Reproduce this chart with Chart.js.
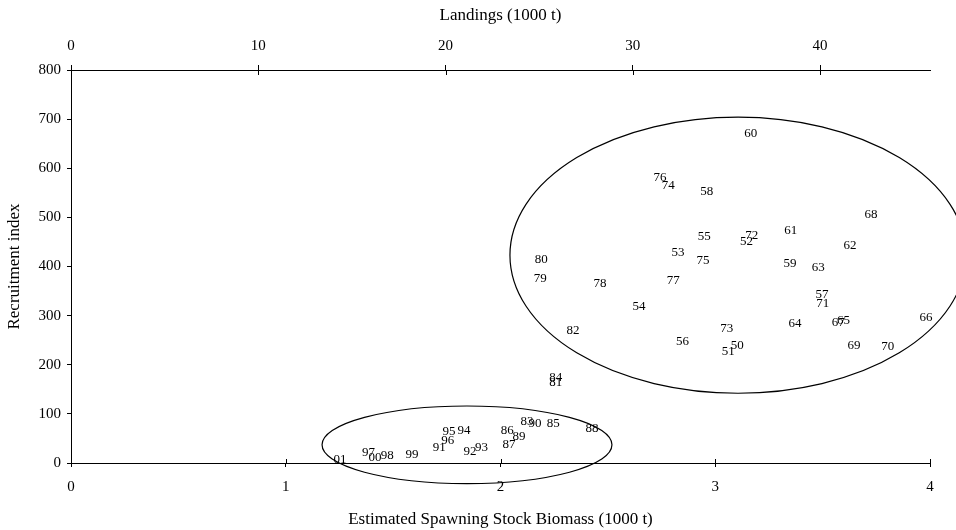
<!DOCTYPE html>
<html>
<head>
<meta charset="utf-8">
<script src="https://cdn.jsdelivr.net/npm/chart.js@4/dist/chart.umd.min.js"></script>
<style>
  body { margin: 0; background: #fff; }
  canvas { display: block; }
</style>
</head>
<body>
<canvas id="srChart" width="956" height="530"></canvas>
<script>
// Year labels and stock-recruitment values
const years = ['50', '51', '52', '53', '54', '55', '56', '57', '58', '59',
    '60', '61', '62', '63', '64', '65', '66', '67', '68', '69',
    '70', '71', '72', '73', '74', '75', '76', '77', '78', '79',
    '80', '81', '82', '83', '84', '85', '86', '87', '88', '89',
    '90', '91', '92', '93', '94', '95', '96', '97', '98', '99',
    '00', '01'];
const ssb = [3.103, 3.061, 3.146, 2.827, 2.645, 2.949, 2.847, 3.497, 2.960, 3.348,
    3.165, 3.351, 3.627, 3.480, 3.371, 3.597, 3.981, 3.573, 3.725, 3.646,
    3.803, 3.500, 3.170, 3.053, 2.781, 2.943, 2.743, 2.805, 2.463, 2.185,
    2.190, 2.257, 2.338, 2.123, 2.257, 2.246, 2.032, 2.040, 2.426, 2.086,
    2.161, 1.715, 1.858, 1.912, 1.830, 1.760, 1.754, 1.385, 1.473, 1.588,
    1.416, 1.253];
const recruitment = [239, 227, 450, 428, 318, 460, 248, 342, 552, 405,
    671, 474, 442, 397, 283, 290, 297, 286, 506, 240,
    238, 325, 463, 274, 564, 412, 580, 371, 366, 375,
    415, 164, 269, 84, 174, 81, 66, 37, 71, 54,
    81, 31, 24, 32, 67, 64, 45, 22, 16, 18,
    11, 6];

// Ellipses grouping the two periods: [centre x, centre y, half width, half height] in data units
const highPeriod = [3.106, 423, 1.062, 281];
const lowPeriod = [1.844, 37, 0.675, 79];

const serif = 'Liberation Serif, Times New Roman, serif';

// draws the year text at each point, the ellipses and the inner halves of the ticks
const yearLabels = {
    id: 'yearLabels',
    afterDraw(chart) {
        const ctx = chart.ctx;
        const xs = chart.scales.x;
        const ys = chart.scales.y;
        const meta = chart.getDatasetMeta(0);
        ctx.save();
        ctx.fillStyle = '#000';
        ctx.font = '13px ' + serif;
        ctx.textAlign = 'center';
        ctx.textBaseline = 'middle';
        meta.data.forEach(function(pt, i) {
            ctx.fillText(years[i], pt.x, pt.y);
        });

        ctx.strokeStyle = '#000';
        ctx.lineWidth = 1.2;
        [highPeriod, lowPeriod].forEach(function(e) {
            const cx = xs.getPixelForValue(e[0]);
            const cy = ys.getPixelForValue(e[1]);
            const rx = xs.getPixelForValue(e[0] + e[2]) - cx;
            const ry = cy - ys.getPixelForValue(e[1] + e[3]);
            ctx.beginPath();
            ctx.ellipse(cx, cy, rx, ry, 0, 0, Math.PI * 2);
            ctx.stroke();
        });

        // tick marks cross the top and bottom axis lines
        ctx.lineWidth = 1;
        ctx.beginPath();
        xs.ticks.forEach(function(t) {
            const px = Math.round(xs.getPixelForValue(t.value)) + 0.5;
            ctx.moveTo(px, xs.top);
            ctx.lineTo(px, xs.top - 4);
        });
        const top = chart.scales.x2;
        top.ticks.forEach(function(t) {
            const px = Math.round(top.getPixelForValue(t.value)) + 0.5;
            ctx.moveTo(px, top.bottom);
            ctx.lineTo(px, top.bottom + 5);
        });
        ctx.stroke();
        ctx.restore();
    }
};

const ctx = document.getElementById('srChart').getContext('2d');
const srChart = new Chart(ctx, {
    type: 'scatter',
    data: {
        datasets: [{
            data: ssb.map(function(v, i) { return { x: v, y: recruitment[i] }; }),
            pointRadius: 0,
            pointHoverRadius: 0,
            xAxisID: 'x',
            yAxisID: 'y'
        }]
    },
    options: {
        responsive: false,
        animation: false,
        layout: { padding: { left: 0, right: 26, top: 0, bottom: 0 } },
        plugins: {
            legend: { display: false },
            tooltip: { enabled: false }
        },
        scales: {
            x: {
                type: 'linear',
                position: 'bottom',
                min: 0,
                max: 4,
                ticks: { stepSize: 1, color: '#000', padding: 11, font: { family: serif, size: 15 } },
                grid: { drawOnChartArea: false, tickLength: 4, color: '#000' },
                border: { color: '#000' },
                title: {
                    display: true,
                    text: 'Estimated Spawning Stock Biomass (1000 t)',
                    color: '#000',
                    font: { family: serif, size: 17 },
                    padding: { top: 0, bottom: 0 }
                },
                afterFit: function(s) { s.height = 67; }
            },
            x2: {
                type: 'linear',
                position: 'top',
                min: 0,
                max: 45.87,
                ticks: { stepSize: 10, includeBounds: false, color: '#000', padding: 10, font: { family: serif, size: 15 } },
                grid: { drawOnChartArea: false, tickLength: 5, color: '#000' },
                border: { color: '#000' },
                title: {
                    display: true,
                    text: 'Landings (1000 t)',
                    color: '#000',
                    font: { family: serif, size: 17 },
                    padding: { top: 5, bottom: 0 }
                },
                afterFit: function(s) { s.height = 70; }
            },
            y: {
                type: 'linear',
                position: 'left',
                min: 0,
                max: 800,
                ticks: { stepSize: 100, color: '#000', padding: 6, font: { family: serif, size: 15 } },
                grid: { drawOnChartArea: false, tickLength: 4, color: '#000' },
                border: { color: '#000' },
                title: {
                    display: true,
                    text: 'Recruitment index',
                    color: '#000',
                    font: { family: serif, size: 17 },
                    padding: { top: 4, bottom: 0 }
                },
                afterFit: function(s) { s.width = 71; }
            }
        }
    },
    plugins: [yearLabels]
});
</script>
</body>
</html>
